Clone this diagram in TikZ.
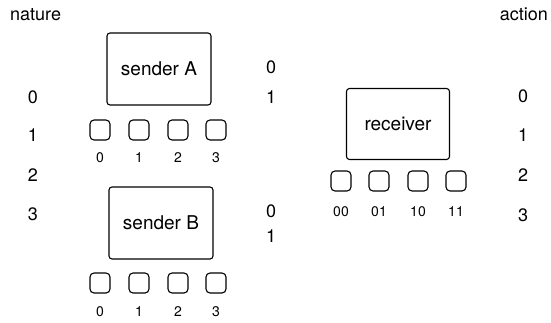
\documentclass[tikz,border=0pt]{standalone}
\usepackage{fontspec}
\setmainfont{TeX Gyre Heros}
\tikzset{
  agent/.style={draw, line width=1.1pt, rounded corners=3pt, minimum width=104pt, minimum height=72pt, font=\fontsize{19}{21}\selectfont},
  slot/.style={draw, line width=1.1pt, rounded corners=4pt, minimum size=20pt, inner sep=0pt},
  lbl/.style={font=\fontsize{18}{20}\selectfont, inner sep=0pt},
  sml/.style={font=\fontsize{14}{16}\selectfont, inner sep=0pt}
}
\begin{document}
\begin{tikzpicture}[x=1pt, y=-1pt]
                \useasboundingbox (0,0) rectangle (551,322);

                % Nature
                \node[lbl, anchor=west] (nature) at (10,15) {nature};
                \node[lbl] (n0) at (33,97) {0};
                \node[lbl] (n1) at (33,135) {1};
                \node[lbl] (n2) at (33,175) {2};
                \node[lbl] (n3) at (33,214) {3};

                % Sender A
                \node[agent] (sendA) at (159,69) {sender A};
                \node[slot] (a0) at (100,130) {};
                \node[slot] (a1) at (139,130) {};
                \node[slot] (a2) at (178,130) {};
                \node[slot] (a3) at (216,130) {};
                \node[sml] (la0) at (100,158) {0};
                \node[sml] (la1) at (139,158) {1};
                \node[sml] (la2) at (178,158) {2};
                \node[sml] (la3) at (216,158) {3};
                \node[lbl] (ma0) at (271,67) {0};
                \node[lbl] (ma1) at (271,97) {1};

                % Sender B
                \node[agent] (sendB) at (161,223) {sender B};
                \node[slot] (b0) at (100,283) {};
                \node[slot] (b1) at (139,283) {};
                \node[slot] (b2) at (178,283) {};
                \node[slot] (b3) at (216,283) {};
                \node[sml] (lb0) at (100,312) {0};
                \node[sml] (lb1) at (139,312) {1};
                \node[sml] (lb2) at (178,312) {2};
                \node[sml] (lb3) at (216,312) {3};
                \node[lbl] (mb0) at (271,211) {0};
                \node[lbl] (mb1) at (271,236) {1};

                % Receiver
                \node[agent, minimum width=103pt, minimum height=71pt] (recv) at (398,124) {receiver};
                \node[slot] (r0) at (341,181) {};
                \node[slot] (r1) at (379,181) {};
                \node[slot] (r2) at (418,181) {};
                \node[slot] (r3) at (456,181) {};
                \node[sml] (lr0) at (341,212) {00};
                \node[sml] (lr1) at (379,212) {01};
                \node[sml] (lr2) at (418,212) {10};
                \node[sml] (lr3) at (456,212) {11};

                % Action
                \node[lbl, anchor=east] (action) at (548,14) {action};
                \node[lbl] (c0) at (523,96) {0};
                \node[lbl] (c1) at (523,135) {1};
                \node[lbl] (c2) at (523,175) {2};
                \node[lbl] (c3) at (523,215) {3};
            \end{tikzpicture}
\end{document}
